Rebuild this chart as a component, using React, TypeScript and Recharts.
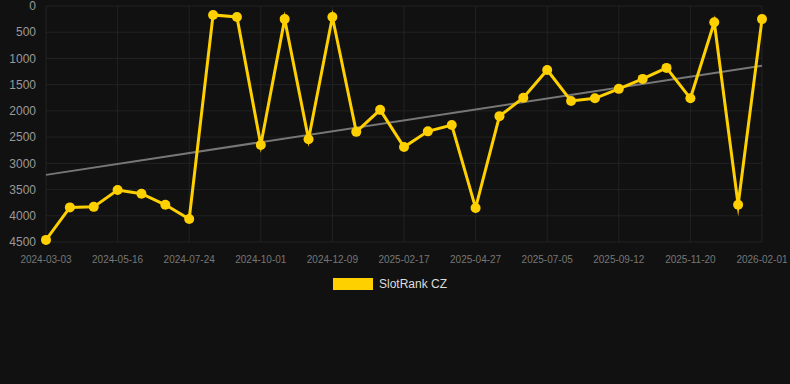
import { CartesianGrid, Legend, Line, LineChart, ReferenceLine, XAxis, YAxis } from 'recharts'

const dates = [
  '2024-03-03', '2024-03-27', '2024-04-21', '2024-05-16', '2024-06-08', '2024-07-01',
  '2024-07-24', '2024-08-16', '2024-09-08', '2024-10-01', '2024-10-24', '2024-11-16',
  '2024-12-09', '2025-01-01', '2025-01-24', '2025-02-17', '2025-03-12', '2025-04-04',
  '2025-04-27', '2025-05-20', '2025-06-12', '2025-07-05', '2025-07-28', '2025-08-20',
  '2025-09-12', '2025-10-05', '2025-10-28', '2025-11-20', '2025-12-14', '2026-01-07',
  '2026-02-01',
]

const rank = [
  4460, 3840, 3830, 3510, 3580, 3790, 4060, 170, 210, 2650, 250, 2540, 210, 2400, 1980,
  2690, 2390, 2270, 3850, 2100, 1750, 1220, 1810, 1760, 1580, 1390, 1180, 1760, 310,
  3790, 250,
]

const trendEnds = [3220, 1140]
const yTicks = [0, 500, 1000, 1500, 2000, 2500, 3000, 3500, 4000, 4500]

const rows = dates.map((d, i) => ({ d, rank: rank[i] }))

function LegendBox() {
  return (
    <div style={{ display: 'flex', justifyContent: 'center', alignItems: 'center', gap: 6, paddingLeft: 18, paddingTop: 5 }}>
      <span style={{ width: 40, height: 12, background: '#ffd000', display: 'inline-block' }} />
      <span style={{ color: '#dddddd', fontSize: 12 }}>SlotRank CZ</span>
    </div>
  )
}

export default function App() {
  return (
    <div
      style={{
        position: 'fixed',
        left: 0,
        top: 0,
        width: 790,
        height: 384,
        background: '#111111',
        fontFamily: '"Liberation Sans", Arial, sans-serif',
      }}
    >
      <LineChart width={790} height={384} data={rows} margin={{ top: 6, right: 28, left: 0, bottom: 92 }}>
        <CartesianGrid stroke="#222222" />
        <XAxis
          dataKey="d"
          interval={2}
          tick={{ fill: '#777777', fontSize: 10 }}
          tickLine={false}
          axisLine={false}
          tickMargin={8}
          height={30}
        />
        <YAxis
          reversed
          domain={[0, 4500]}
          ticks={yTicks}
          interval={0}
          width={46}
          tick={{ fill: '#999999', fontSize: 12 }}
          tickLine={false}
          axisLine={false}
          tickMargin={4}
        />
        <Legend verticalAlign="bottom" height={20} content={() => <LegendBox />} />
        <ReferenceLine
          segment={[
            { x: dates[0], y: trendEnds[0] },
            { x: dates[dates.length - 1], y: trendEnds[1] },
          ]}
          stroke="#777777"
          strokeWidth={2}
        />
        <Line
          type="linear"
          dataKey="rank"
          name="SlotRank CZ"
          stroke="#ffd000"
          strokeWidth={3}
          strokeMiterlimit={10}
          dot={{ r: 5, fill: '#ffd000', stroke: '#ffd000', strokeWidth: 0 }}
          activeDot={false}
          isAnimationActive={false}
        />
      </LineChart>
    </div>
  )
}
